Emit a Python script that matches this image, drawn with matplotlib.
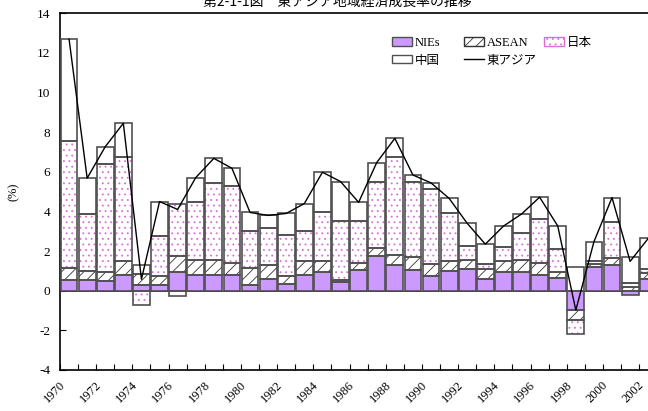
import matplotlib.pyplot as plt
import matplotlib.transforms as mtransforms
import numpy as np
from matplotlib.patches import Patch
from matplotlib.lines import Line2D

plt.rcParams['font.family'] = ['Liberation Serif', 'Noto Sans CJK JP']
plt.rcParams['hatch.linewidth'] = 0.6
plt.rcParams['axes.unicode_minus'] = False

# growth contributions (%), 1970-2002
years = list(range(1970, 2003))
nies = [0.55, 0.55, 0.50, 0.79, 0.30, 0.27, 0.92, 0.79, 0.80, 0.77, 0.30,
        0.59, 0.34, 0.81, 0.97, 0.42, 1.06, 1.76, 1.28, 1.06, 0.76, 1.01,
        1.09, 0.60, 0.94, 0.94, 0.80, 0.64, -0.96, 1.18, 1.31, -0.20, 0.60]
asean = [0.62, 0.47, 0.47, 0.69, 0.52, 0.48, 0.81, 0.77, 0.75, 0.62, 0.84,
         0.71, 0.38, 0.70, 0.51, 0.13, 0.33, 0.39, 0.52, 0.62, 0.59, 0.50,
         0.47, 0.49, 0.54, 0.59, 0.58, 0.28, -0.50, 0.18, 0.34, 0.17, 0.28]
japan = [6.41, 2.86, 5.41, 5.29, -0.74, 1.99, 2.64, 2.94, 3.87, 3.87, 1.85,
         1.89, 2.09, 1.52, 2.48, 2.99, 2.15, 3.36, 4.97, 3.83, 3.78, 2.39,
         0.72, 0.27, 0.74, 1.36, 2.22, 1.17, -0.71, 0.12, 1.84, 0.22, 0.21]
china = [5.12, 1.80, 0.89, 1.68, 0.50, 1.76, -0.27, 1.21, 1.26, 0.92, 0.96,
         0.61, 1.09, 1.37, 2.02, 1.97, 0.92, 0.96, 0.92, 0.33, 0.31, 0.76,
         1.12, 0.99, 1.04, 0.98, 1.12, 1.18, 1.19, 0.99, 1.21, 1.29, 1.55]

series = [nies, asean, japan, china]
face = ['#cc99ff', 'white', 'white', 'white']
hatch = [None, '///', '...', None]
hatch_col = ['#505050', '#333333', '#d870d8', '#505050']

fig = plt.figure(figsize=(6.48, 4.11), dpi=100)
ax = fig.add_axes([0.0926, 0.0998, 0.9217, 0.8678])

x = np.arange(len(years))
w = 0.93
pos = np.zeros(len(years))
neg = np.zeros(len(years))
for vals, fc, h, hc in zip(series, face, hatch, hatch_col):
    v = np.array(vals)
    bottom = np.where(v >= 0, pos, neg)
    # fill + pattern, then outline on top
    ax.bar(x, v, w, bottom=bottom, color=fc, edgecolor=hc, hatch=h,
           linewidth=0, zorder=2)
    ax.bar(x, v, w, bottom=bottom, facecolor='none', edgecolor='#505050',
           linewidth=1.2, zorder=3)
    pos = np.where(v >= 0, pos + v, pos)
    neg = np.where(v < 0, neg + v, neg)

total = np.sum(series, axis=0)
ax.plot(x, total, color='black', linewidth=1, zorder=4)
ax.axhline(0, color='black', linewidth=0.6, zorder=1)

ax.set_xlim(-0.5, len(years) - 0.5)
ax.set_ylim(-4, 14)
ax.set_yticks(np.arange(-4, 15, 2))
ax.set_xticks(np.arange(-0.5, len(years), 1))
ax.set_xticklabels([])
ax.tick_params(axis='both', which='major', direction='in', length=4,
               labelsize=9.5)
ax.tick_params(axis='y', pad=7)
for s in ax.spines.values():
    s.set_linewidth(1.2)

# year labels every two years, rotated, sitting a bit left of each bar
shift = mtransforms.ScaledTranslation(-10 / 100, -9 / 100, fig.dpi_scale_trans)
for xi, yr in zip(x[::2], years[::2]):
    ax.text(xi, 0, str(yr), transform=ax.get_xaxis_transform() + shift,
            rotation=45, ha='right', va='top', rotation_mode='anchor',
            fontsize=9, clip_on=False)

ax.set_ylabel('(%)', fontsize=9, labelpad=12)

fig.text(0.52, 0.987, '第2-1-1図　東アジア地域経済成長率の推移', fontsize=10,
         ha='center', va='baseline', family='Noto Sans CJK JP')

# legend: three columns placed separately
leg_kw = dict(loc='upper left', frameon=False, fontsize=9, handlelength=1.6,
              handleheight=0.65, handletextpad=0.2, labelspacing=0.45,
              borderpad=0, borderaxespad=0)
fig.legend([Patch(facecolor='#cc99ff', edgecolor='#505050'),
            Patch(facecolor='white', edgecolor='#505050')],
           ['NIEs', '中国'], bbox_to_anchor=(392 / 648, 0.91), **leg_kw)
fig.legend([Patch(facecolor='white', edgecolor='#333333', hatch='///'),
            Line2D([], [], color='black', linewidth=1)],
           ['ASEAN', '東アジア'], bbox_to_anchor=(464 / 648, 0.91), **leg_kw)
fig.legend([Patch(facecolor='white', edgecolor='#d870d8', hatch='...')],
           ['日本'], bbox_to_anchor=(544 / 648, 0.91), **leg_kw)

fig.savefig('out.png', dpi=100)
